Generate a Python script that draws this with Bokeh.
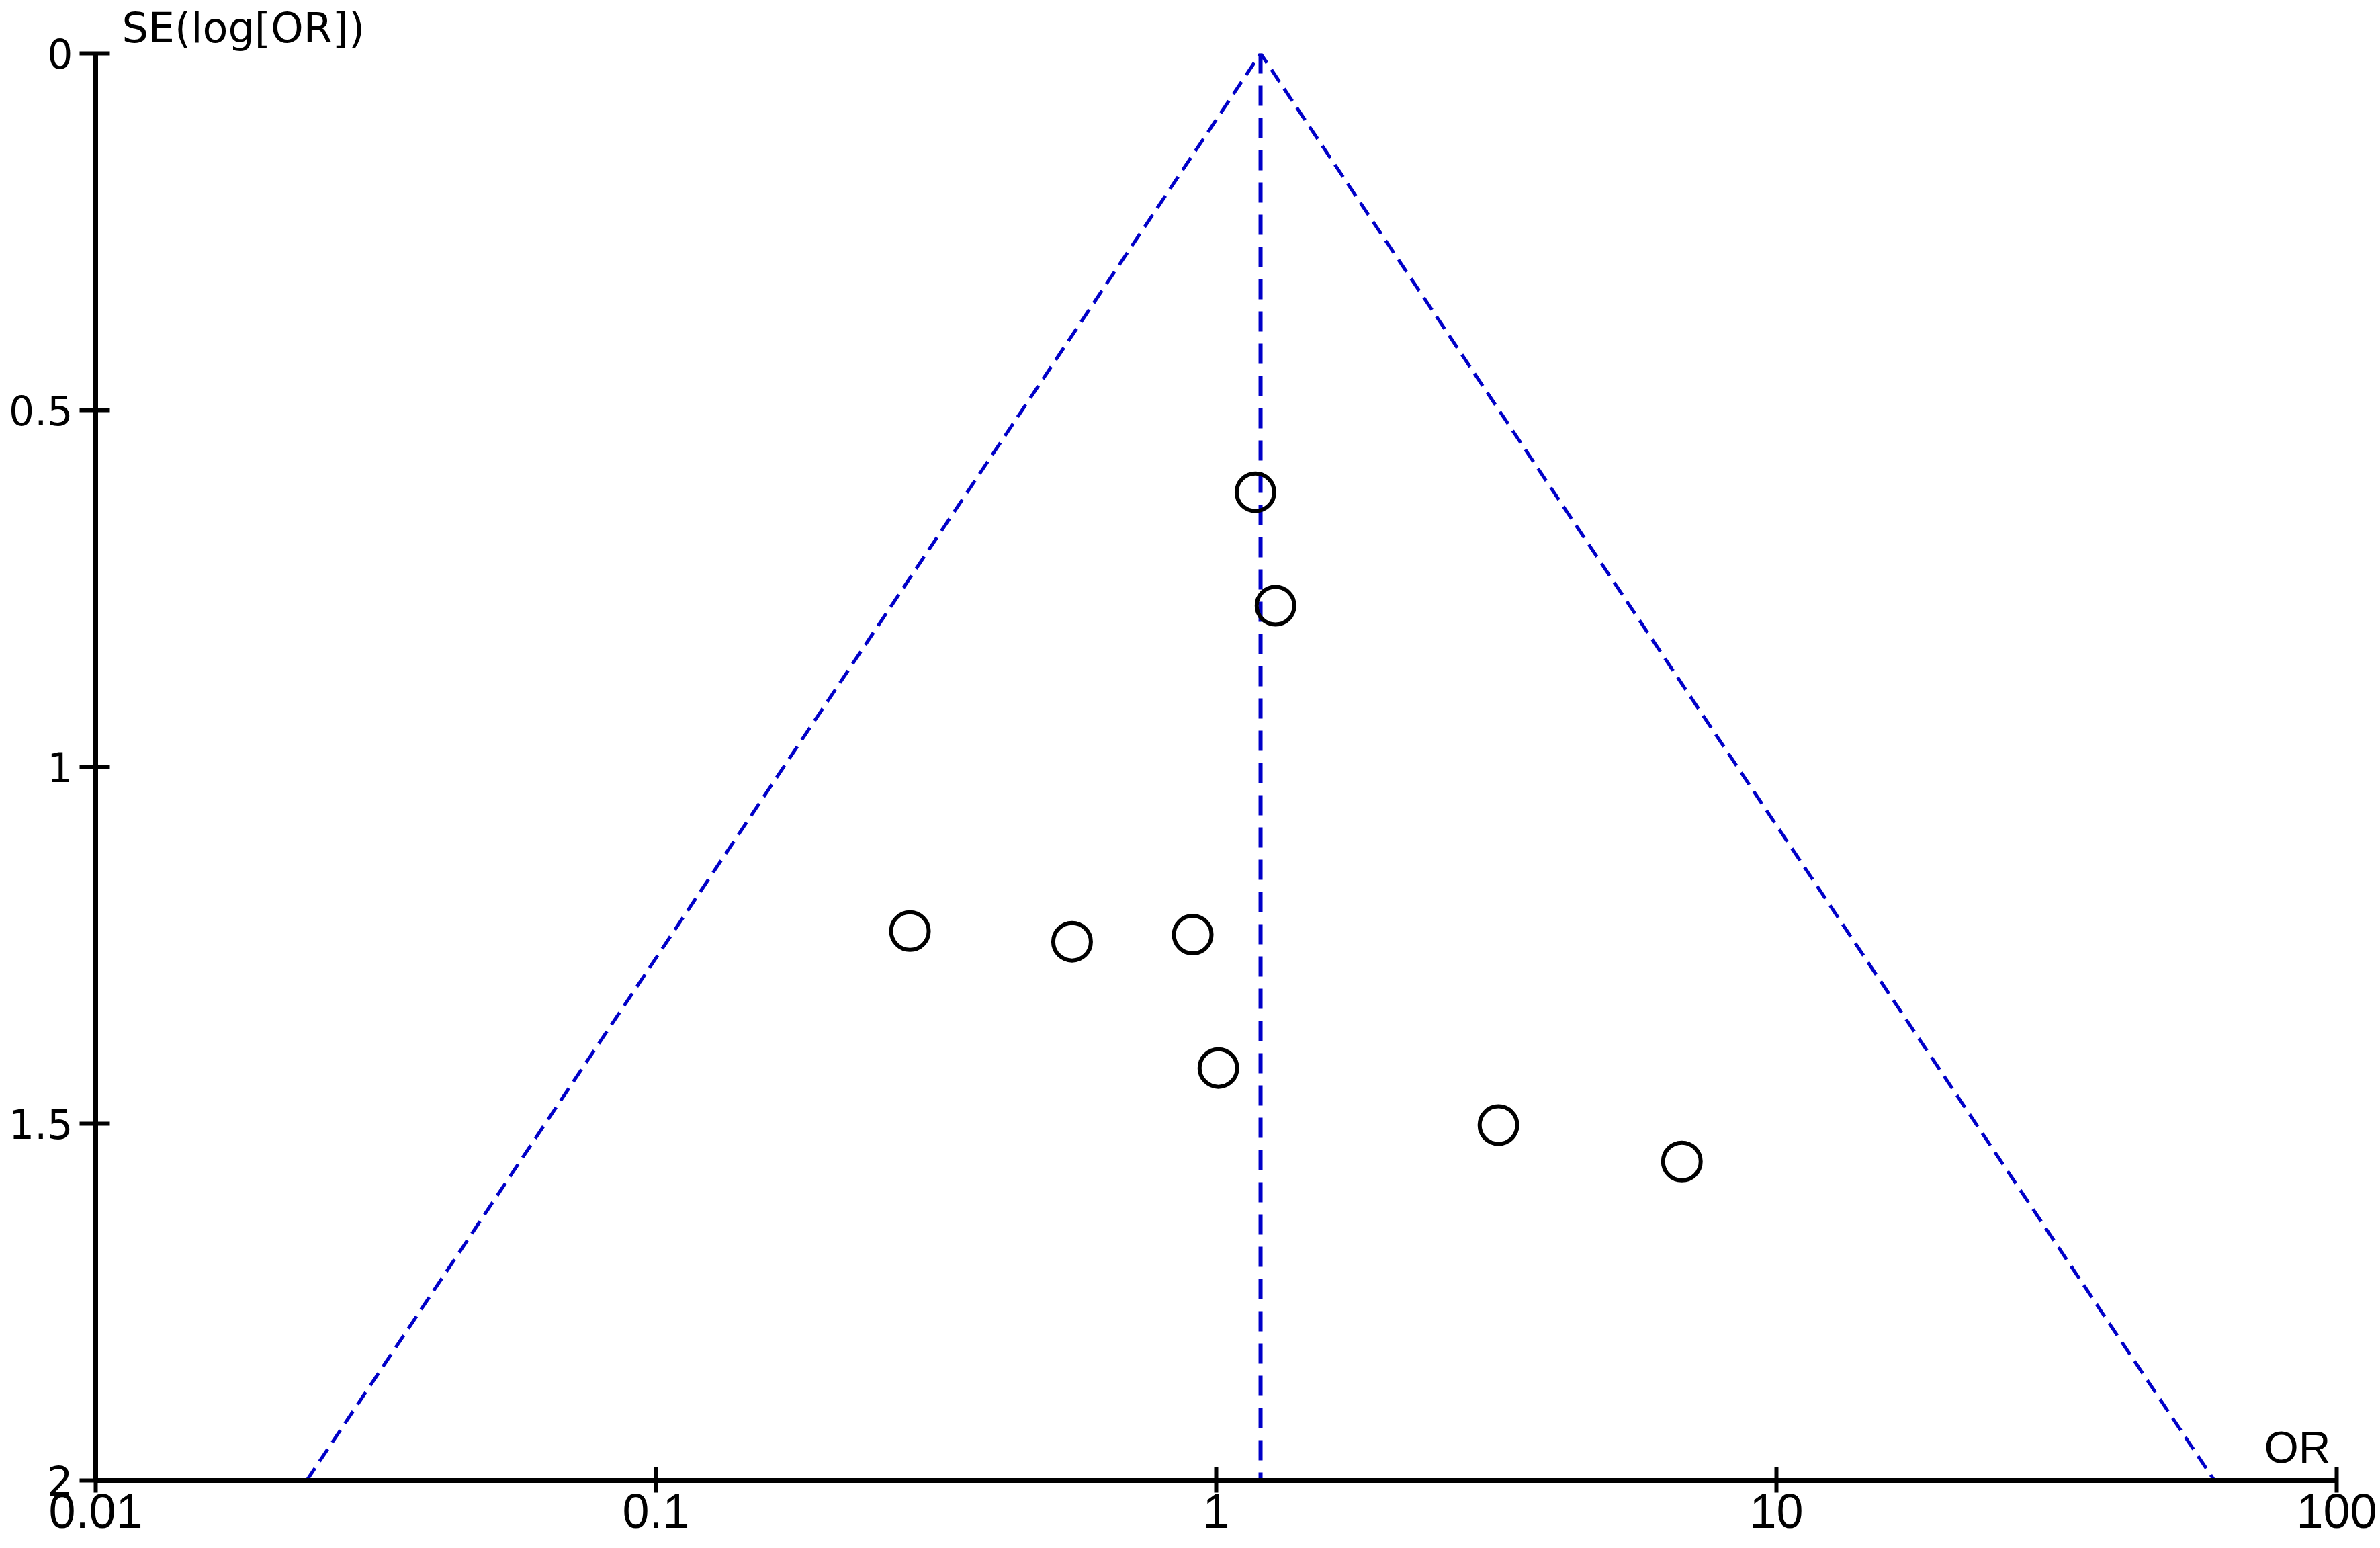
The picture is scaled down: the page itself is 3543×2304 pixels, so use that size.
import math
from bokeh.plotting import figure
from bokeh.models import Range1d, FixedTicker, Label, Title
from bokeh.embed import file_html
from bokeh.resources import INLINE

# ---- data ----
study_or = [1.175, 1.276, 0.284, 0.553, 0.908, 1.009, 3.19, 6.78]
study_se = [0.615, 0.774, 1.230, 1.245, 1.235, 1.422, 1.502, 1.553]
pooled_or = 1.20
se_max = 2.0
x_ticks = [0.01, 0.1, 1, 10, 100]
x_tick_labels = ["0.01", "0.1", "1", "10", "100"]
y_ticks = [0, 0.5, 1, 1.5, 2]
y_tick_labels = ["0", "0.5", "1", "1.5", "2"]

BLUE = "#0000C8"

p = figure(width=3543, height=2304, x_axis_type="log",
           x_range=Range1d(0.01, 100), y_range=Range1d(2, 0),
           output_backend="svg", toolbar_location=None,
           min_border_left=142, min_border_right=65,
           min_border_top=77, min_border_bottom=101)
p.grid.visible = False
p.outline_line_color = None
p.background_fill_color = "white"
p.border_fill_color = "white"

p.title = Title(text="SE(log[OR])", align="left", offset=39, standoff=4,
                text_font="DejaVu Sans", text_font_size="62px",
                text_font_style="normal", text_color="black")

# funnel (95% pseudo-confidence limits)
lo = math.exp(math.log(pooled_or) - 1.96 * se_max)
hi = math.exp(math.log(pooled_or) + 1.96 * se_max)
p.line(x=[lo, pooled_or, hi], y=[se_max, 0, se_max], line_color=BLUE,
       line_width=5, line_dash="22 12")
p.line(x=[pooled_or, pooled_or], y=[0, se_max], line_color=BLUE,
       line_width=6, line_dash="30 18")

# studies
p.scatter(x=study_or, y=study_se, marker="circle", size=56,
          fill_color=None, line_color="black", line_width=6)

# axes
xa = p.xaxis[0]
xa.ticker = FixedTicker(ticks=x_ticks, minor_ticks=[])
xa.major_label_overrides = {t: l for t, l in zip(x_ticks, x_tick_labels)}
xa.axis_line_width = 7
xa.axis_line_color = "black"
xa.major_tick_line_width = 6
xa.major_tick_line_color = "black"
xa.major_tick_in = 20
xa.major_tick_out = 18
xa.minor_tick_line_color = None
xa.major_label_standoff = 2
xa.major_label_text_font = "Liberation Sans"
xa.major_label_text_font_size = "72px"
xa.major_label_text_color = "black"

ya = p.yaxis[0]
ya.ticker = FixedTicker(ticks=y_ticks, minor_ticks=[])
ya.major_label_overrides = {t: l for t, l in zip(y_ticks, y_tick_labels)}
ya.axis_line_width = 7
ya.axis_line_color = "black"
ya.major_tick_line_width = 6
ya.major_tick_line_color = "black"
ya.major_tick_in = 21
ya.major_tick_out = 24
ya.minor_tick_line_color = None
ya.major_label_standoff = 10
ya.major_label_text_font = "DejaVu Sans"
ya.major_label_text_font_size = "60px"
ya.major_label_text_color = "black"
ya.major_label_orientation = "horizontal"

p.add_layout(Label(x=100, y=2, x_offset=-9, y_offset=50, text="OR",
                   text_font="Liberation Sans", text_font_size="66px",
                   text_align="right", text_baseline="alphabetic",
                   text_color="black"))

open("out.html", "w").write(file_html(p, INLINE))
